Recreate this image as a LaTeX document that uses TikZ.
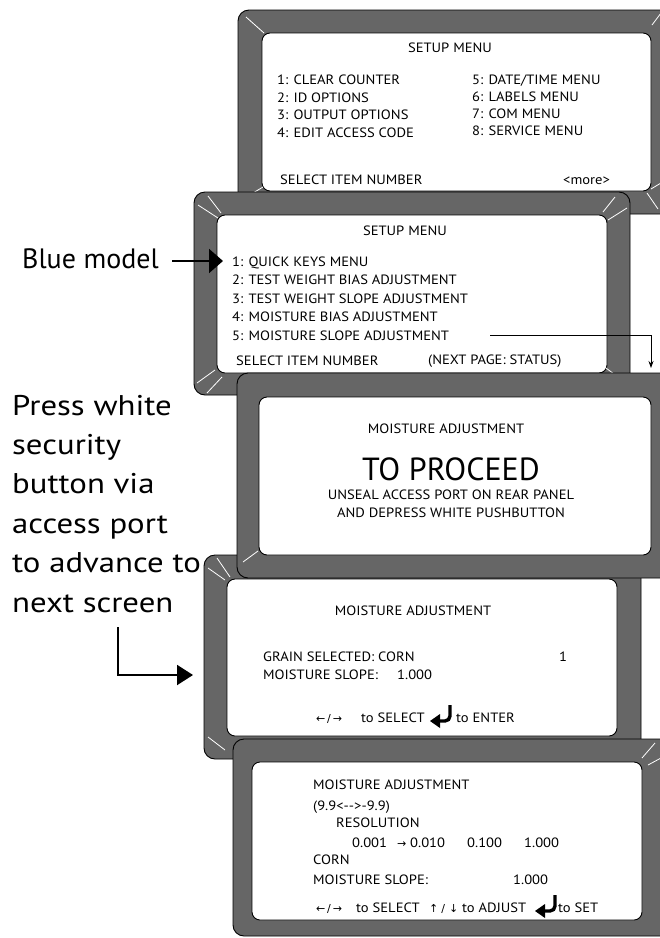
\documentclass[tikz,border=0pt]{standalone}
\usepackage{fontspec}
\setmainfont{PT Sans}
\newfontfamily\lcdfam{PT Sans}[FakeStretch=1.08]
\newfontfamily\notefam{PT Sans}[FakeStretch=1.15]
\newfontfamily\symfont{DejaVu Sans}
\usetikzlibrary{arrows.meta}
\definecolor{framegray}{RGB}{102,102,102}
\newcommand\lcdfont{\lcdfam\fontsize{13.5}{15}\selectfont}
\newcommand\arrfont{\symfont\fontsize{11}{13}\selectfont}
\newcommand\mybigfont{\notefam\fontsize{28.5}{32}\selectfont}
\begin{document}
\begin{tikzpicture}[x=1pt,y=-1pt,
  bezel/.style={fill=framegray,draw=black,line width=0.9pt,rounded corners=11pt},
  screen/.style={fill=white,draw=black,line width=0.9pt,rounded corners=8pt},
  glint/.style={draw=white,line width=0.8pt},
  lcd/.style={inner sep=0pt,anchor=base west,font=\lcdfont},
  lcdc/.style={inner sep=0pt,anchor=base,font=\lcdfont},
  sym/.style={inner sep=0pt,anchor=base west,font=\arrfont},
  big/.style={inner sep=0pt,anchor=base west,font=\mybigfont},
  bigarr/.style={line width=2pt,-{Triangle[length=14pt,width=24pt]}},
  bentarr/.style={line width=2pt,-{Triangle[length=16pt,width=20pt]}},
  smallarr/.style={line width=0.8pt,-{Stealth[length=7pt,width=5pt]}},
  pics/enterkey/.style={code={
    \fill (0,0) -- (10,-7) -- (10,7) -- cycle;
    \draw[line width=3.4pt,rounded corners=5pt] (8,0) -- (20,0) -- (20,-16);
  }}]
\useasboundingbox (0,0) rectangle (660,938);
\clip (0,0) rectangle (660,938);

% ---------- panel 1 ----------
\path[bezel] (238,10) rectangle (676,214);
\path[screen] (262,33) rectangle (651,191);
\draw[glint] (246,17) -- (264,33);
\draw[glint] (652,25) -- (661,13);
\draw[glint] (647,193) -- (658,209);
\draw[glint] (651,189) -- (661,183);
\draw[glint] (253,193) -- (263,187);
\node[lcdc] (p1t) at (450,52.5) {SETUP MENU};
\node[lcd] (p1a) at (277,84.5) {1: CLEAR COUNTER};
\node[lcd] (p1b) at (277,102) {2: ID OPTIONS};
\node[lcd] (p1c) at (277,119.5) {3: OUTPUT OPTIONS};
\node[lcd] (p1d) at (277,137) {4: EDIT ACCESS CODE};
\node[lcd] (p1e) at (472,84) {5: DATE/TIME MENU};
\node[lcd] (p1f) at (472,101) {6: LABELS MENU};
\node[lcd] (p1g) at (472,118) {7: COM MENU};
\node[lcd] (p1h) at (472,135) {8: SERVICE MENU};
\node[lcd] (p1s) at (280,184.5) {SELECT ITEM NUMBER};
\node[lcd] (p1m) at (563,184.5) {<more>};

% ---------- panel 2 ----------
\path[bezel] (194,192) rectangle (630,395);
\path[screen] (217,215) rectangle (607,373);
\draw[glint] (198,205) -- (218,218);
\draw[glint] (208,196) -- (221,213);
\draw[glint] (603,212) -- (615,197);
\draw[glint] (608,220) -- (627,208);
\draw[glint] (197,383) -- (215,370);
\draw[glint] (207,393) -- (222,377);
\draw[glint] (606,368) -- (618,377);
\node[lcdc] (p2t) at (405,235.5) {SETUP MENU};
\node[lcd] (p2a) at (232,266) {1: QUICK KEYS MENU};
\node[lcd] (p2b) at (232,284.5) {2: TEST WEIGHT BIAS ADJUSTMENT};
\node[lcd] (p2c) at (232,303) {3: TEST WEIGHT SLOPE ADJUSTMENT};
\node[lcd] (p2d) at (232,321) {4: MOISTURE BIAS ADJUSTMENT};
\node[lcd] (p2e) at (232,340) {5: MOISTURE SLOPE ADJUSTMENT};
\node[lcd] (p2s) at (236,365) {SELECT ITEM NUMBER};
\node[lcd] (p2n) at (428,364) {(NEXT PAGE: STATUS)};

% ---------- panel 4 (behind 3 and 5) ----------
\path[bezel] (204,555) rectangle (641,759);
\path[screen] (227,579) rectangle (617,736);
\draw[glint] (208,568) -- (225,580);
\draw[glint] (217,558) -- (230,577);
\draw[glint] (208,737) -- (225,750);
\node[lcdc] (p4t) at (413,615.5) {MOISTURE ADJUSTMENT};
\node[lcd] (p4a) at (263,661.5) {GRAIN SELECTED: CORN};
\node[lcd] (p4n) at (559,661.5) {1};
\node[lcd] (p4b) at (263,679.5) {MOISTURE SLOPE:};
\node[lcd] (p4v) at (397,679.5) {1.000};
\node[sym] (p4lr) at (316,722.5) {←\,/\,→};
\node[lcd] (p4sel) at (361,722.5) {to SELECT};
\pic at (430,721) {enterkey};
\node[lcd] (p4ent) at (456,722.5) {to ENTER};

% ---------- panel 3 ----------
\path[bezel] (237,373) rectangle (676,578);
\path[screen] (259,397) rectangle (651,555);
\draw[glint] (243,562) -- (258,551);
\node[lcdc] (p3t) at (446,433.5) {MOISTURE ADJUSTMENT};
\node[inner sep=0pt,anchor=base,font=\fontsize{32}{35}\selectfont] (p3p) at (451,480) {TO PROCEED};
\node[lcdc] (p3u) at (451,499.5) {UNSEAL ACCESS PORT ON REAR PANEL};
\node[lcdc] (p3w) at (451,517.5) {AND DEPRESS WHITE PUSHBUTTON};

% ---------- panel 5 ----------
\path[bezel] (233,739) rectangle (676,936);
\path[screen] (252,762) rectangle (642,920);
\draw[glint] (642,758) -- (655,743);
\draw[glint] (648,765) -- (661,758);
\node[lcd] (p5t) at (313,789.5) {MOISTURE ADJUSTMENT};
\node[lcd] (p5r) at (313,810.5) {(9.9<-{}->-9.9)};
\node[lcd] (p5res) at (336,827.5) {RESOLUTION};
\node[lcd] (p5v1) at (352,847.5) {0.001};
\node[sym] (p5ar) at (397,847.5) {→};
\node[lcd] (p5v2) at (410,847.5) {0.010};
\node[lcd] (p5v3) at (467,847.5) {0.100};
\node[lcd] (p5v4) at (524,847.5) {1.000};
\node[lcd] (p5c) at (313,864.5) {CORN};
\node[lcd] (p5s) at (313,884.5) {MOISTURE SLOPE:};
\node[lcd] (p5sv) at (513,884.5) {1.000};
\node[sym] (p5lr) at (316,912.5) {←\,/\,→};
\node[lcd] (p5sel) at (356,912.5) {to SELECT};
\node[sym] (p5ud) at (429,912.5) {↑\hspace{3pt}/\hspace{4pt}↓};
\node[lcd] (p5adj) at (462,912.5) {to ADJUST};
\pic at (535,911) {enterkey};
\node[lcd] (p5set) at (558,912.5) {to SET};

% ---------- arrow from item 5 ----------
\coordinate (slopetip) at (651,368);
\draw[smallarr] ([xshift=41pt]p2e.east) -| (slopetip);

% ---------- left annotations ----------
\node[inner sep=0pt,anchor=base west,font=\fontsize{28}{32}\selectfont] (blue) at (22,268) {Blue model};
\coordinate (bluestart) at (172,261);
\coordinate (bluetip) at (223,261);
\draw[bigarr] (bluestart) -- (bluetip);

\node[big] (l1) at (12,415) {Press white};
\node[big] (l2) at (12,454.4) {security};
\node[big] (l3) at (12,493.8) {button via};
\node[big] (l4) at (12,533.2) {access port};
\node[big] (l5) at (12,572.6) {to advance to};
\node[big] (l6) at (12,612) {next screen};
\coordinate (bendtop) at (118,627);
\coordinate (bendtip) at (193,675);
\draw[bentarr] (bendtop) |- (bendtip);
\end{tikzpicture}
\end{document}
